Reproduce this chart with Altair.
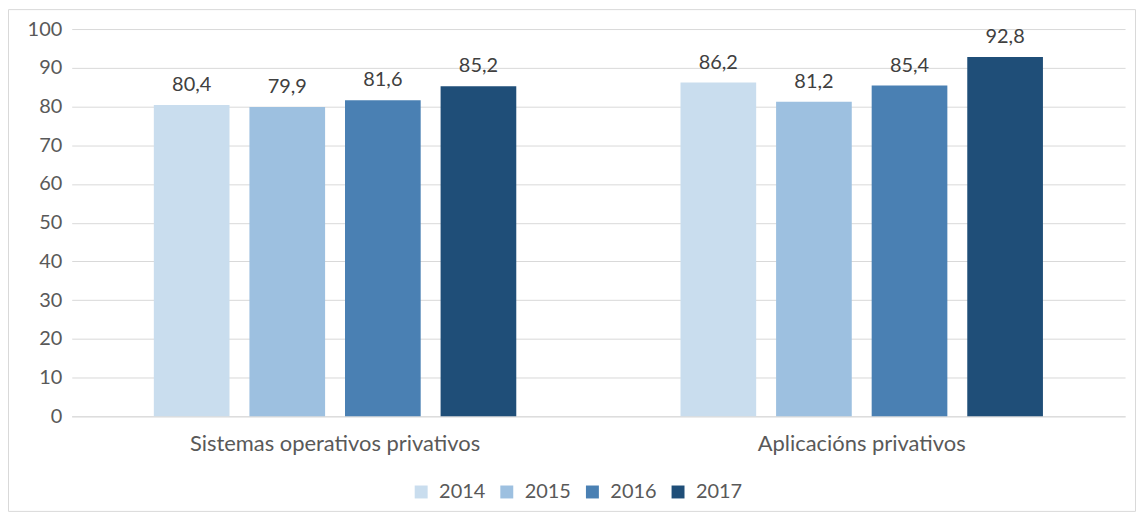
import altair as alt
import pandas as pd

categories = ["Sistemas operativos privativos", "Aplicacións privativos"]
years = ["2014", "2015", "2016", "2017"]
values_sistemas = [80.4, 79.9, 81.6, 85.2]
values_aplicacions = [86.2, 81.2, 85.4, 92.8]
colors = ["#C9DDEE", "#9DC0E0", "#4A80B3", "#1F4E78"]
y_ticks = [0, 10, 20, 30, 40, 50, 60, 70, 80, 90, 100]

rows = []
for cat, vals in zip(categories, [values_sistemas, values_aplicacions]):
    for yr, v in zip(years, vals):
        rows.append({"cat": cat, "year": yr, "value": v,
                     "label": f"{v:.1f}".replace(".", ",")})
df = pd.DataFrame(rows)

FONT = "Lato"
AX = "#595959"

base = alt.Chart(df).encode(
    x=alt.X("cat:N", sort=categories,
            scale=alt.Scale(paddingInner=0, paddingOuter=0),
            axis=alt.Axis(title=None, labelAngle=0, ticks=False, domain=True,
                          domainColor="#D9D9D9", labelPadding=17, labelFontSize=22,
                          labelColor=AX, labelFont=FONT, labelLimit=0, grid=False)),
    xOffset=alt.XOffset("year:N", sort=years,
                        scale=alt.Scale(paddingInner=0.2083, paddingOuter=0.859)),
    y=alt.Y("value:Q", scale=alt.Scale(domain=[0, 100]),
            axis=alt.Axis(values=y_ticks, title=None, ticks=False, domain=False,
                          grid=True, gridColor="#D9D9D9", labelPadding=10,
                          labelFontSize=20, labelColor=AX, labelFont=FONT)),
)

bars = base.mark_bar().encode(
    color=alt.Color("year:N", sort=years,
                    scale=alt.Scale(domain=years, range=colors),
                    legend=alt.Legend(title=None, orient="none", legendX=341, legendY=455,
                                      direction="horizontal", symbolType="square",
                                      symbolSize=169, symbolStrokeWidth=0,
                                      labelFontSize=20, labelColor=AX, labelFont=FONT,
                                      columnPadding=11, labelOffset=8, padding=0))
)

text = base.mark_text(baseline="bottom", dy=-10, fontSize=20, color="#404040",
                      font=FONT).encode(text="label:N")

border = alt.Chart(pd.DataFrame({"z": [0]})).mark_rect(
    fill="transparent", stroke="#D9D9D9", strokeWidth=1
).encode(x=alt.value(-63.5), x2=alt.value(1068.5), y=alt.value(-19.5), y2=alt.value(484.5))

chart = alt.layer(border, bars, text).properties(
    width=1058, height=389,
    autosize=alt.AutoSizeParams(type="none"),
    padding={"left": 64, "top": 20, "right": 12, "bottom": 100},
).configure_view(stroke=None)

chart.save("out.html", embed_options={"renderer": "svg", "actions": False})
